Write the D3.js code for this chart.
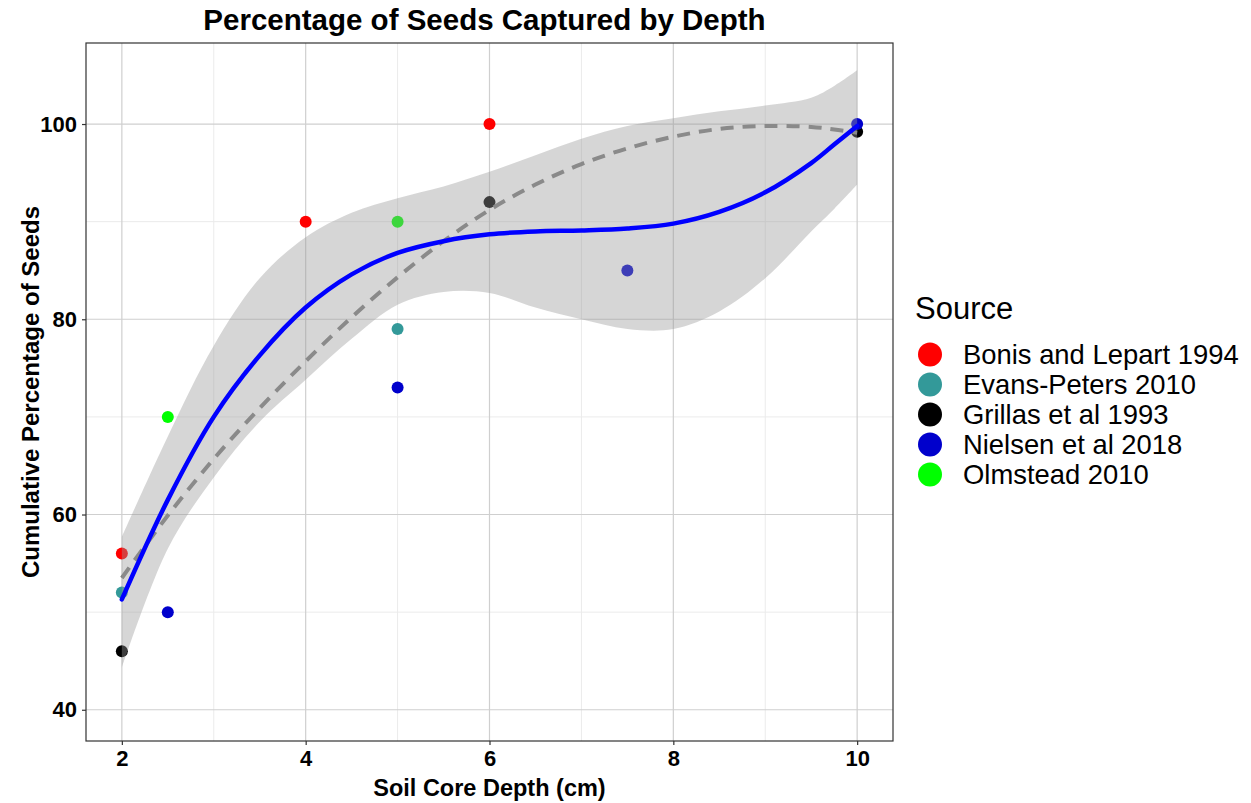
<!DOCTYPE html>
<html>
<head>
<meta charset="utf-8">
<script src="https://cdn.jsdelivr.net/npm/d3@7"></script>
<style>
  body { margin: 0; background: #fff; }
  text { font-family: "Liberation Sans", Arial, sans-serif; }
</style>
</head>
<body>
<svg width="1251" height="803"></svg>
<script>
const width = 1251;
const height = 803;

// legend / colours
const sources = ["Bonis and Lepart 1994", "Evans-Peters 2010", "Grillas et al 1993", "Nielsen et al 2018", "Olmstead 2010"];
const sourceColors = ["#FF0000", "#339999", "#000000", "#0000CC", "#00FF00"];

// observations
const depth   = [2, 4, 6,    2, 5,    2, 6, 10,    2.5, 5, 7.5, 10,    2.5, 5];
const percent = [56, 90, 100, 52, 79, 46, 92, 99.2, 50, 73, 85, 100, 70, 90];
const source  = [0, 0, 0, 1, 1, 2, 2, 2, 3, 3, 3, 3, 4, 4];

// smoothed curves
const smoothX     = [2, 2.5, 3, 3.5, 4, 4.5, 5, 5.5, 6, 6.5, 7, 7.5, 8, 8.5, 9, 9.5, 9.75, 10];
const loessFit    = [51.3, 61.5, 70, 76.3, 81.2, 84.6, 86.8, 88, 88.7, 89, 89.1, 89.3, 89.8, 91, 93, 96, 97.9, 99.8];
const loessUpper  = [57.7, 68, 77.3, 84.2, 88.4, 90.9, 92.4, 93.6, 95.1, 96.8, 98.5, 99.8, 100.6, 101.3, 101.9, 102.7, 103.9, 105.5];
const loessLower  = [44.3, 56.5, 63.8, 69.5, 73.8, 78, 81.5, 82.8, 82.7, 81.2, 80, 79, 79, 80.8, 84.2, 89, 91.3, 93.8];
const dashedFit   = [53.5, 59.9, 65.7, 70.9, 75.7, 80.2, 84.3, 88, 91.2, 93.8, 95.9, 97.5, 98.7, 99.5, 99.8, 99.7, 99.45, 99.1];

const xTicks = [2, 4, 6, 8, 10];
const xMinor = [3, 5, 7, 9];
const yTicks = [40, 60, 80, 100];
const yMinor = [50, 70, 90];

const margin = { top: 43, left: 86, right: 358, bottom: 62 };
const pw = width - margin.left - margin.right;
const ph = height - margin.top - margin.bottom;

const x = d3.scaleLinear().domain([1.61, 10.39]).range([0, pw]);
const y = d3.scaleLinear().domain([36.8, 108.3]).range([ph, 0]);

const svg = d3.select("svg");
const g = svg.append("g").attr("transform", `translate(${margin.left},${margin.top})`);

g.append("clipPath").attr("id", "clip")
  .append("rect").attr("width", pw).attr("height", ph);

// grid
g.selectAll(".xminor").data(xMinor).join("line")
  .attr("x1", d => x(d)).attr("x2", d => x(d)).attr("y1", 0).attr("y2", ph)
  .attr("stroke", "#ebebeb").attr("stroke-width", 1);
g.selectAll(".yminor").data(yMinor).join("line")
  .attr("y1", d => y(d)).attr("y2", d => y(d)).attr("x1", 0).attr("x2", pw)
  .attr("stroke", "#ebebeb").attr("stroke-width", 1);
g.selectAll(".xmajor").data(xTicks).join("line")
  .attr("x1", d => x(d)).attr("x2", d => x(d)).attr("y1", 0).attr("y2", ph)
  .attr("stroke", "#cfcfcf").attr("stroke-width", 1.2);
g.selectAll(".ymajor").data(yTicks).join("line")
  .attr("y1", d => y(d)).attr("y2", d => y(d)).attr("x1", 0).attr("x2", pw)
  .attr("stroke", "#cfcfcf").attr("stroke-width", 1.2);

const plot = g.append("g").attr("clip-path", "url(#clip)");

// points (drawn first, the band sits over them)
plot.selectAll(".pt")
  .data(depth.map((d, i) => ({ x: d, y: percent[i], s: source[i] })))
  .join("circle")
  .attr("cx", d => x(d.x))
  .attr("cy", d => y(d.y))
  .attr("r", 6)
  .attr("fill", d => sourceColors[d.s]);

const line = d3.line()
  .x(d => x(d[0]))
  .y(d => y(d[1]))
  .curve(d3.curveCatmullRom);

// dashed smooth
plot.append("path")
  .datum(smoothX.map((v, i) => [v, dashedFit[i]]))
  .attr("d", line)
  .attr("fill", "none")
  .attr("stroke", "#808080")
  .attr("stroke-width", 4)
  .attr("stroke-dasharray", "13,9");

// confidence band
const band = d3.area()
  .x((d, i) => x(smoothX[i]))
  .y0((d, i) => y(loessLower[i]))
  .y1((d, i) => y(loessUpper[i]))
  .curve(d3.curveCatmullRom);

plot.append("path")
  .datum(smoothX)
  .attr("d", band)
  .attr("fill", "#999999")
  .attr("fill-opacity", 0.4);

// loess line
plot.append("path")
  .datum(smoothX.map((v, i) => [v, loessFit[i]]))
  .attr("d", line)
  .attr("fill", "none")
  .attr("stroke", "#0000FF")
  .attr("stroke-width", 4.5)
  .attr("stroke-linecap", "round");

// panel border
g.append("rect")
  .attr("width", pw).attr("height", ph)
  .attr("fill", "none").attr("stroke", "#333333").attr("stroke-width", 1.2);

// axes
const xAxis = g.append("g").attr("transform", `translate(0,${ph})`)
  .call(d3.axisBottom(x).tickValues(xTicks).tickSize(4).tickPadding(5));
const yAxis = g.append("g")
  .call(d3.axisLeft(y).tickValues(yTicks).tickSize(4).tickPadding(5));

[xAxis, yAxis].forEach(a => {
  a.select(".domain").remove();
  a.selectAll("line").attr("stroke", "#333333").attr("stroke-width", 1.2);
  a.selectAll("text")
    .attr("fill", "#000")
    .style("font-size", "22px")
    .style("font-weight", "bold")
    .style("font-family", "'Liberation Sans', Arial, sans-serif");
});

// titles
svg.append("text")
  .attr("x", margin.left + pw / 2 - 5).attr("y", 30)
  .attr("text-anchor", "middle")
  .style("font-size", "29.5px").style("font-weight", "bold")
  .text("Percentage of Seeds Captured by Depth");

svg.append("text")
  .attr("x", margin.left + pw / 2).attr("y", 796)
  .attr("text-anchor", "middle")
  .style("font-size", "23.5px").style("font-weight", "bold")
  .text("Soil Core Depth (cm)");

svg.append("text")
  .attr("transform", `translate(39,${margin.top + ph / 2}) rotate(-90)`)
  .attr("text-anchor", "middle")
  .style("font-size", "24px").style("font-weight", "bold")
  .text("Cumulative Percentage of Seeds");

// legend
const legend = svg.append("g").attr("transform", "translate(915,0)");
legend.append("text")
  .attr("x", 0).attr("y", 319)
  .style("font-size", "31px")
  .text("Source");

const items = legend.selectAll(".item")
  .data(sources)
  .join("g")
  .attr("transform", (d, i) => `translate(0,${354.5 + i * 30})`);
items.append("circle")
  .attr("cx", 15).attr("cy", 0).attr("r", 12)
  .attr("fill", (d, i) => sourceColors[i]);
items.append("text")
  .attr("x", 48).attr("y", 9.5)
  .style("font-size", "27.4px")
  .text(d => d);
</script>
</body>
</html>
